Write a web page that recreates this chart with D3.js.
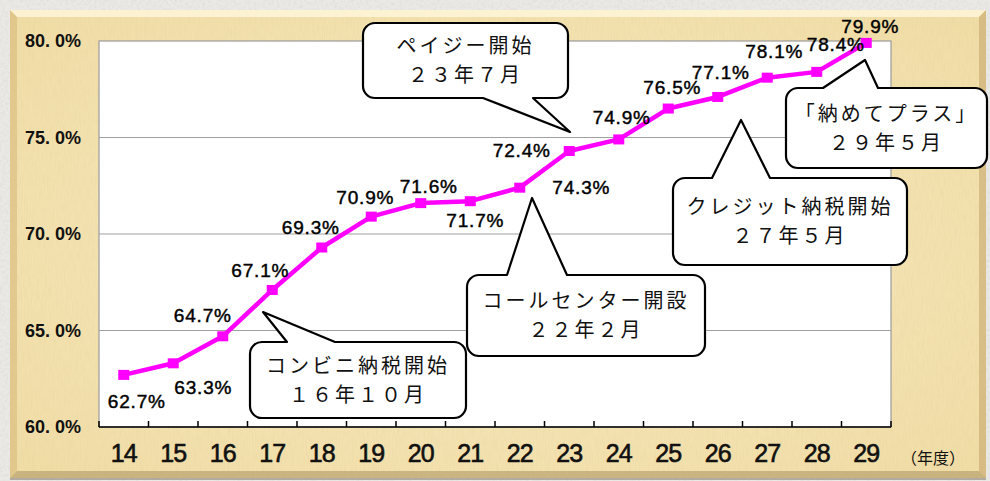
<!DOCTYPE html>
<html><head><meta charset="utf-8">
<script src="https://cdn.jsdelivr.net/npm/d3@7"></script>
<style>html,body{margin:0;padding:0;background:#ebe9e5;}svg{display:block;}</style>
</head><body>
<svg id="chart" width="990" height="481"></svg>
<script>
// ---- data ----
const categories = ["14","15","16","17","18","19","20","21","22","23","24","25","26","27","28","29"];
const values = [62.7,63.3,64.7,67.1,69.3,70.9,71.6,71.7,72.4,74.3,74.9,76.5,77.1,78.1,78.4,79.9];
const yTickValues = [60,65,70,75,80];
const yTickLabels = ["60. 0%","65. 0%","70. 0%","75. 0%","80. 0%"];
const xUnitLabel = "（年度）";
const calloutLines = [
  ["コンビニ納税開始","１６年１０月"],
  ["コールセンター開設","２２年２月"],
  ["ペイジー開始","２３年７月"],
  ["クレジット納税開始","２７年５月"],
  ["「納めてプラス」","２９年５月"]
];

// ---- layout (not data) ----
const W = 990, H = 481;
const plot = {l: 99, r: 891, t: 41, b: 427};
const labelOffsets = [[13,26],[30,24],[-20,-21],[-12,-20],[-11,-20],[-6,-19],[8,-17],[5,19],[2,-38],[12,36],[3,-22],[4,-21],[3,-25],[7,-27],[19,-28],[4,-17]];
const calloutGeom = [
  {x0:250,y0:342,x1:466,y1:418, side:"top", a:287,b:335, tx:263,ty:312},
  {x0:467,y0:275,x1:705,y1:356, side:"top", a:507,b:567, tx:532,ty:198},
  {x0:363,y0:23,x1:568,y1:98, side:"bottom", a:483,b:533, tx:570,ty:132},
  {x0:673,y0:178,x1:907,y1:265, side:"top", a:712,b:770, tx:741,ty:120},
  {x0:786,y0:88,x1:987,y1:168, side:"top", a:823,b:878, tx:865,ty:60}
];

const svg = d3.select("#chart");
const defs = svg.append("defs");

// textures
const f1 = defs.append("filter").attr("id","paper").attr("x",0).attr("y",0).attr("width","100%").attr("height","100%");
f1.append("feTurbulence").attr("type","fractalNoise").attr("baseFrequency","0.9 0.08").attr("numOctaves",3).attr("seed",4).attr("result","n");
f1.append("feColorMatrix").attr("in","n").attr("type","matrix")
  .attr("values","0 0 0 0 0.75  0 0 0 0 0.6  0 0 0 0 0.3  0 0 0 -1.6 1.0");
f1.append("feComposite").attr("in2","SourceGraphic").attr("operator","in");
const f2 = defs.append("filter").attr("id","stone").attr("x",0).attr("y",0).attr("width","100%").attr("height","100%");
f2.append("feTurbulence").attr("type","fractalNoise").attr("baseFrequency","0.35").attr("numOctaves",3).attr("seed",7).attr("result","n");
f2.append("feColorMatrix").attr("in","n").attr("type","matrix")
  .attr("values","0 0 0 0 0.6  0 0 0 0 0.6  0 0 0 0 0.6  0 0 0 -1.8 1.1");
f2.append("feComposite").attr("in2","SourceGraphic").attr("operator","in");

const rg = defs.append("radialGradient").attr("id","parch").attr("cx","50%").attr("cy","50%").attr("r","70%");
rg.append("stop").attr("offset","0%").attr("stop-color","#f8ebc2");
rg.append("stop").attr("offset","100%").attr("stop-color","#f0dca5");

// page background
svg.append("rect").attr("width",W).attr("height",H).attr("fill","#ebe9e5");
svg.append("rect").attr("width",W).attr("height",H).attr("fill","#000").attr("filter","url(#stone)").attr("opacity",0.35);

// frame
const fx0=10, fy0=10, fx1=986, fy1=478, bv=7;
svg.append("rect").attr("x",fx0).attr("y",fy0+2).attr("width",fx1-fx0).attr("height",fy1-fy0).attr("fill","#7a7060").attr("opacity",0.5);
svg.append("rect").attr("x",fx0).attr("y",fy0).attr("width",fx1-fx0).attr("height",fy1-fy0).attr("fill","url(#parch)");
svg.append("rect").attr("x",fx0).attr("y",fy0).attr("width",fx1-fx0).attr("height",fy1-fy0).attr("fill","#000").attr("filter","url(#paper)").attr("opacity",0.3);
const bevel = (pts, c, o) => svg.append("polygon").attr("points", pts.map(p=>p.join(",")).join(" ")).attr("fill",c).attr("opacity",o);
bevel([[fx0,fy0],[fx1,fy0],[fx1-bv,fy0+bv],[fx0+bv,fy0+bv]], "#fff8dc", 0.8);
bevel([[fx0,fy0],[fx0+bv,fy0+bv],[fx0+bv,fy1-bv],[fx0,fy1]], "#d6b676", 0.55);
bevel([[fx1,fy0],[fx1,fy1],[fx1-bv,fy1-bv],[fx1-bv,fy0+bv]], "#b8975a", 0.45);
bevel([[fx0,fy1],[fx1,fy1],[fx1-bv,fy1-bv],[fx0+bv,fy1-bv]], "#9a8050", 0.45);

// scales
const x = d3.scaleBand().domain(categories).range([plot.l, plot.r]).padding(0);
const y = d3.scaleLinear().domain([60,80]).range([plot.b, plot.t]);
const cx = d => x(d) + x.bandwidth()/2;

// plot area
svg.append("rect").attr("x",plot.l).attr("y",plot.t).attr("width",plot.r-plot.l).attr("height",plot.b-plot.t)
  .attr("fill","#fff").attr("stroke","#9a9a9a").attr("stroke-width",1.2);

// gridlines
svg.append("g").selectAll("line").data(yTickValues.filter(v=>v>60 && v<80)).join("line")
  .attr("x1",plot.l).attr("x2",plot.r).attr("y1",d=>y(d)).attr("y2",d=>y(d))
  .attr("stroke","#a0a0a0").attr("stroke-width",1.2);

// y labels
svg.append("g").selectAll("text").data(yTickValues).join("text")
  .attr("x",81).attr("y",d=>y(d)).attr("dy","0.36em").attr("text-anchor","end")
  .attr("font-family","Liberation Sans, Arial, sans-serif").attr("font-size",18).attr("font-weight","bold")
  .attr("fill","#111").text((d,i)=>yTickLabels[i]);

// x axis
svg.append("line").attr("x1",plot.l).attr("x2",plot.r).attr("y1",plot.b).attr("y2",plot.b).attr("stroke","#000").attr("stroke-width",1.5);
const bounds = categories.map(c=>x(c)).concat([plot.r]);
svg.append("g").selectAll("line").data(bounds).join("line")
  .attr("x1",d=>d).attr("x2",d=>d).attr("y1",plot.b).attr("y2",plot.b-6).attr("stroke","#000").attr("stroke-width",1.5);
svg.append("g").selectAll("text").data(categories).join("text")
  .attr("x",d=>cx(d)).attr("y",453).attr("dy","0.36em").attr("text-anchor","middle")
  .attr("font-family","Liberation Sans, Arial, sans-serif").attr("font-size",25)
  .attr("letter-spacing","-1px").attr("stroke","#111").attr("stroke-width",0.6)
  .attr("fill","#111").text(d=>d);
svg.append("text").attr("x",933).attr("y",458).attr("dy","0.36em").attr("text-anchor","middle")
  .attr("font-family","Noto Sans CJK JP, sans-serif").attr("font-size",16).attr("fill","#111").text(xUnitLabel);

// line + markers
const pts = categories.map((c,i)=>({c, v: values[i], i}));
svg.append("path").datum(pts)
  .attr("d", d3.line().x(d=>cx(d.c)).y(d=>y(d.v)))
  .attr("fill","none").attr("stroke","#ff00ff").attr("stroke-width",4.5).attr("stroke-linejoin","round");
svg.append("g").selectAll("rect").data(pts).join("rect")
  .attr("x",d=>cx(d.c)-5.5).attr("y",d=>y(d.v)-5).attr("width",11).attr("height",10).attr("fill","#ff00ff");

// data labels
svg.append("g").selectAll("text").data(pts).join("text")
  .attr("x",d=>cx(d.c)+labelOffsets[d.i][0]).attr("y",d=>y(d.v)+labelOffsets[d.i][1]).attr("dy","0.36em")
  .attr("text-anchor","middle").attr("font-family","Liberation Sans, Arial, sans-serif").attr("font-size",19)
  .attr("letter-spacing","0.8px").attr("stroke","#000").attr("stroke-width",0.45).attr("fill","#000")
  .text(d=>d.v.toFixed(1)+"%");

// callouts
function calloutPath(g){
  const r=12, {x0,y0,x1,y1,side,a,b,tx,ty}=g;
  let p=`M${x0+r},${y0}`;
  if(side==="top") p+=`L${a},${y0}L${tx},${ty}L${b},${y0}`;
  p+=`L${x1-r},${y0}A${r},${r} 0 0 1 ${x1},${y0+r}L${x1},${y1-r}A${r},${r} 0 0 1 ${x1-r},${y1}`;
  if(side==="bottom") p+=`L${b},${y1}L${tx},${ty}L${a},${y1}`;
  p+=`L${x0+r},${y1}A${r},${r} 0 0 1 ${x0},${y1-r}L${x0},${y0+r}A${r},${r} 0 0 1 ${x0+r},${y0}Z`;
  return p;
}
const cg = svg.append("g").selectAll("g").data(calloutGeom).join("g");
cg.append("path").attr("d",calloutPath).attr("fill","#fff").attr("stroke","#000").attr("stroke-width",2.2).attr("stroke-linejoin","round");
cg.each(function(g,i){
  const midX=(g.x0+g.x1)/2, midY=(g.y0+g.y1)/2;
  d3.select(this).selectAll("text").data(calloutLines[i]).join("text")
    .attr("x",midX).attr("y",(d,j)=>midY+(j-0.5)*29).attr("dy","0.36em").attr("text-anchor","middle")
    .attr("font-family","Noto Sans CJK JP, sans-serif").attr("font-size",20).attr("letter-spacing","3px")
    .attr("fill","#111").text(d=>d);
});
</script>
</body></html>
